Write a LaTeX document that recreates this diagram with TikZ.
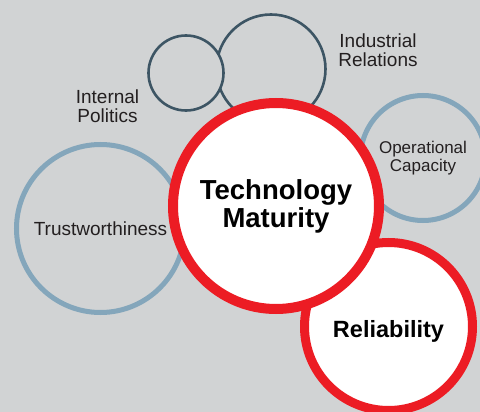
\documentclass[tikz,border=0pt]{standalone}
\usepackage{fontspec}
\setmainfont{Liberation Sans}
\usepackage{xcolor}
\usepackage{tikz}

\definecolor{paper}{HTML}{D1D3D4}
\definecolor{slate}{HTML}{3D5564}
\definecolor{steel}{HTML}{84A6BB}
\definecolor{signal}{HTML}{EC1C24}
\definecolor{ink}{HTML}{231F20}

\newcommand{\plain}{\fontsize{19}{19}\selectfont}
\newcommand{\heavy}[1]{\fontsize{#1}{28}\selectfont\bfseries}

\tikzset{
  ring/.style={circle,fill=paper,inner sep=0pt,text=ink,align=center,font=\plain},
  slatering/.style={ring,draw=slate,line width=2.6pt},
  steelring/.style={ring,draw=steel,line width=5pt},
  redring/.style={ring,fill=white,draw=signal,line width=10pt,text=black},
  caption/.style={align=center,text=ink,font=\plain,inner sep=0pt}
}

\begin{document}
\begin{tikzpicture}[x=1pt,y=-1pt]
    \fill[paper] (0,0) rectangle (480,412);
    \useasboundingbox (0,0) rectangle (480,412);

    % two dark rings at the top
    \node[slatering,minimum size=109pt] (relations) at (271,69) {};
    \node[slatering,minimum size=75pt] (politics) at (186,73) {};

    % pale rings
    \node[steelring,minimum size=125pt,font=\fontsize{17}{18}\selectfont] (capacity) at (423,158) {Operational\\Capacity};
    \node[steelring,minimum size=168pt] (trust) at (100.5,228.5) {Trustworthiness};

    % red rings
    \node[redring,minimum size=168pt,line width=9pt,font=\heavy{23.5},text height=26pt,text depth=5pt] (reliability) at (388.5,326.5) {Reliability};
    \node[redring,minimum size=206pt,font=\heavy{27.5}] (maturity) at (276,206) {Technology\\Maturity};

    \node[caption] (relationsText) at (378,50) {Industrial\\Relations};
    \node[caption] (politicsText) at (107.5,106) {Internal\\Politics};
\end{tikzpicture}
\end{document}
